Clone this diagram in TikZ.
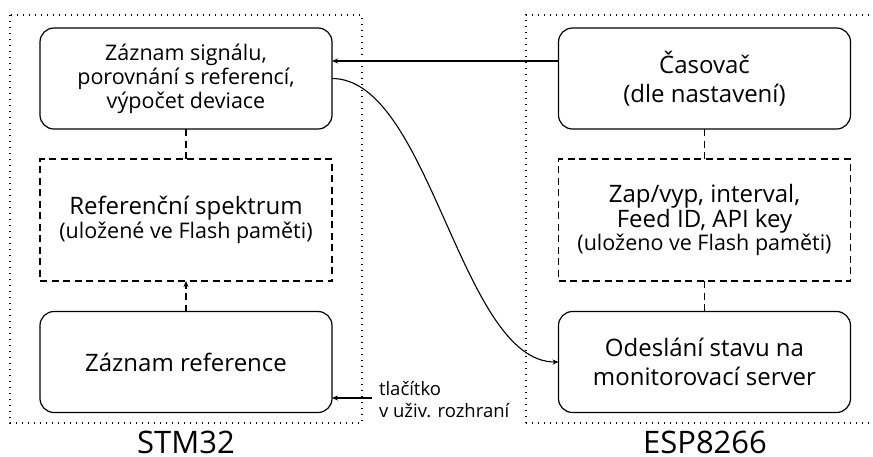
\documentclass[tikz,border=0pt]{standalone}
\usepackage{fontspec}
\setmainfont{Open Sans}
\usetikzlibrary{arrows.meta}
\begin{document}
\begin{tikzpicture}[x=1pt,y=-1pt,
  every node/.style={inner sep=0pt,outer sep=0pt},
  proc/.style={draw,line width=1.2pt,rounded corners=14pt,minimum width=292pt,minimum height=101pt,align=center},
  store/.style={draw,line width=1.2pt,dash pattern=on 7pt off 4.5pt,minimum width=292pt,minimum height=122pt,align=center},
  frame/.style={line width=1.2pt,dash pattern=on 1.2pt off 4.8pt},
  arr/.style={line width=1.1pt,-{Stealth[length=6pt,width=5pt]}},
  big/.style={font=\fontsize{24}{29}\selectfont},
  mid/.style={font=\fontsize{21.5}{24}\selectfont}
]
\useasboundingbox (0,0) rectangle (873,456);
\draw[frame] (10,15) rectangle (362,423);
\draw[frame] (526,423) -- (526,15) -- (873,15);
\draw[frame] (526,423) -- (873,423);

\node[proc,mid] (zs) at (186,78.5) {Záznam signálu,\\porovnání s referencí,\\výpočet deviace};
\node[store] (rs) at (186,220) {{\fontsize{24}{30}\selectfont Referenční spektrum}\\{\fontsize{21.5}{30}\selectfont (uložené ve Flash paměti)}};
\node[proc,big] (zr) at (186,362) {Záznam reference};

\node[proc,big] (cas) at (704.5,78.5) {Časovač\\(dle nastavení)};
\node[store] (nast) at (704.5,220) {{\fontsize{24}{27}\selectfont Zap/vyp, interval,}\\{\fontsize{24}{27}\selectfont Feed ID, API key}\\{\fontsize{21.5}{26}\selectfont (uloženo ve Flash paměti)}};
\node[proc,big] (ods) at (704.5,362) {Odeslání stavu na\\monitorovací server};

\draw[line width=1.2pt,dash pattern=on 7pt off 4.5pt] (zs) -- (rs);
\draw[arr,dash pattern=on 7pt off 4.5pt] (zr) -- (rs);
\draw[line width=1.2pt,dash pattern=on 7pt off 4.5pt] (cas) -- (nast);
\draw[line width=1.2pt,dash pattern=on 7pt off 4.5pt] (nast) -- (ods);

\draw[arr] (cas.west |- 0,61) -- (zs.east |- 0,61);
\draw[arr] (zs.east) .. controls +(98,0) and +(-98,0) .. (ods.west);

\coordinate (btn) at (372,398);
\draw[arr] (btn) -- (zs.east |- btn);
\node[anchor=base west,align=left,font=\fontsize{18.5}{22}\selectfont] (btnl) at (379,417) {tlačítko\\v uživ. rozhraní};

\node[anchor=base,font=\fontsize{31}{34}\selectfont] (stm) at (186,453) {STM32};
\node[anchor=base,font=\fontsize{31}{34}\selectfont] (esp) at (705,453) {ESP8266};
\end{tikzpicture}
\end{document}
